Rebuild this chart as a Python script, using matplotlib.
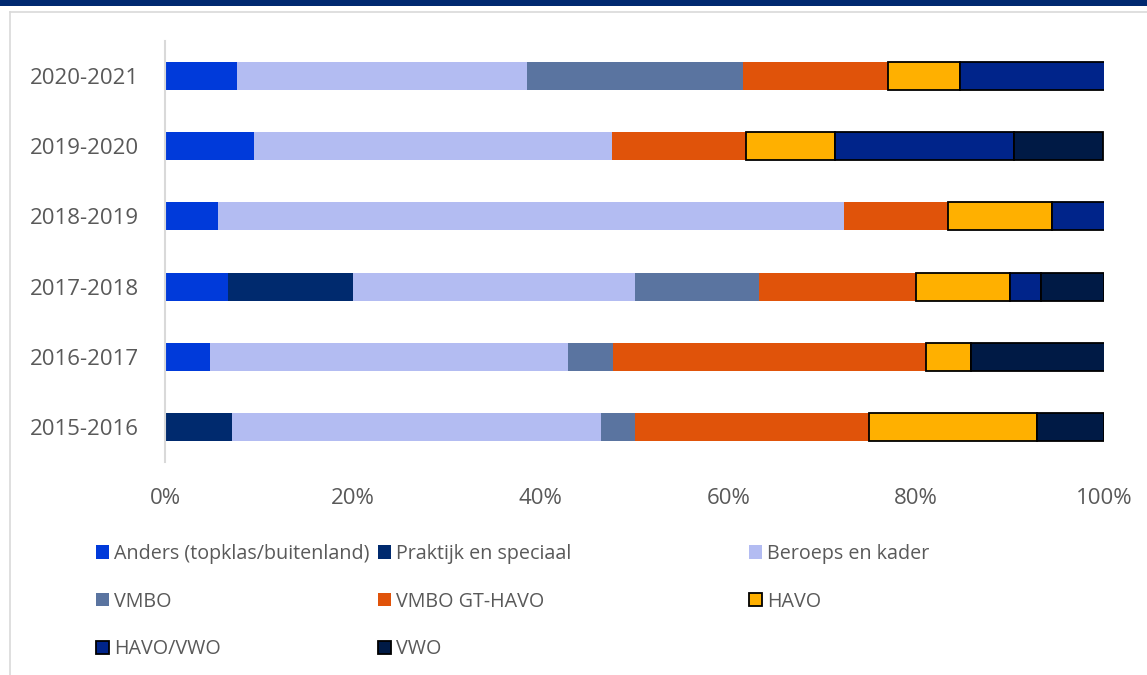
import numpy as np
import matplotlib.pyplot as plt
from matplotlib.patches import Patch, Rectangle
from matplotlib.lines import Line2D
from matplotlib.ticker import PercentFormatter

# ==========================================
# data (share per school year, %)
# ==========================================
years = ['2015-2016', '2016-2017', '2017-2018', '2018-2019', '2019-2020', '2020-2021']

anders = [0.0, 4.8, 6.7, 5.6, 9.5, 7.7]
praktijk = [7.1, 0.0, 13.3, 0.0, 0.0, 0.0]
beroeps = [39.3, 38.1, 30.0, 66.7, 38.1, 30.8]
vmbo = [3.6, 4.8, 13.3, 0.0, 0.0, 23.1]
vmbo_gt_havo = [25.0, 33.3, 16.7, 11.1, 14.3, 15.4]
havo = [17.9, 4.8, 10.0, 11.1, 9.5, 7.7]
havo_vwo = [0.0, 0.0, 3.3, 5.6, 19.0, 15.4]
vwo = [7.1, 14.3, 6.7, 0.0, 9.5, 0.0]

series_names = ['Anders (topklas/buitenland)', 'Praktijk en speciaal', 'Beroeps en kader',
                'VMBO', 'VMBO GT-HAVO', 'HAVO', 'HAVO/VWO', 'VWO']
series_vals = [anders, praktijk, beroeps, vmbo, vmbo_gt_havo, havo, havo_vwo, vwo]
colors = ['#003ADA', '#002A6E', '#B3BCF2', '#5A74A0', '#E0530A', '#FFB000', '#00248A', '#001A45']
edged = [False, False, False, False, False, True, True, True]

plt.rcParams['font.family'] = ['Open Sans', 'DejaVu Sans']
txt_col = '#595959'

fig = plt.figure(figsize=(11.47, 6.75), dpi=100)
ax = fig.add_axes([165 / 1147, 1 - 462 / 675, 939 / 1147, 421 / 675])

# ==========================================
# stacked bars
# ==========================================
y = np.arange(len(years))
left = np.zeros(len(years))
handles = []
for name, vals, c, e in zip(series_names, series_vals, colors, edged):
    vals = np.array(vals)
    if e:
        ax.barh(y, vals, left=left, height=0.4, color=c, edgecolor='black', linewidth=1.3, zorder=3)
        handles.append(Patch(facecolor=c, edgecolor='black', linewidth=1.3, label=name))
    else:
        ax.barh(y, vals, left=left, height=0.4, color=c, edgecolor='none', zorder=2)
        handles.append(Patch(facecolor=c, edgecolor='none', label=name))
    left += vals

ax.set_xlim(0, 100)
ax.set_ylim(-0.5, len(years) - 0.5)
ax.set_yticks(y)
ax.set_yticklabels(years)
ax.set_xticks([0, 20, 40, 60, 80, 100])
ax.xaxis.set_major_formatter(PercentFormatter(decimals=0))
ax.tick_params(axis='both', length=0, labelsize=16, labelcolor=txt_col)
ax.tick_params(axis='x', pad=19)
ax.tick_params(axis='y', pad=19)
for s in ['top', 'right', 'bottom']:
    ax.spines[s].set_visible(False)
ax.spines['left'].set_color('#D9D9D9')
ax.spines['left'].set_linewidth(1.5)

# ==========================================
# legend: three columns placed by hand (row-wise like the original)
# ==========================================
col_x = [96 / 1147, 378 / 1147, 749 / 1147]
for ci, xpos in enumerate(col_x):
    hs = handles[ci::3]
    fig.legend(handles=hs, loc='upper left', bbox_to_anchor=(xpos, 1 - 544 / 675),
               frameon=False, fontsize=14.2, labelcolor=txt_col, handlelength=0.66,
               handleheight=0.66, handletextpad=0.25, labelspacing=1.4, borderpad=0,
               borderaxespad=0)

# frame and top band
fig.add_artist(Rectangle((0, 1 - 6 / 675), 1, 6 / 675, transform=fig.transFigure,
                         facecolor='#002970', edgecolor='none'))
fig.add_artist(Line2D([10 / 1147, 1], [1 - 11.5 / 675, 1 - 11.5 / 675], transform=fig.transFigure,
                      color='#D9D9D9', linewidth=1.2))
fig.add_artist(Line2D([10 / 1147, 10 / 1147], [0, 1 - 11.5 / 675], transform=fig.transFigure,
                      color='#D9D9D9', linewidth=1.2))

fig.savefig('out.png', dpi=100)
